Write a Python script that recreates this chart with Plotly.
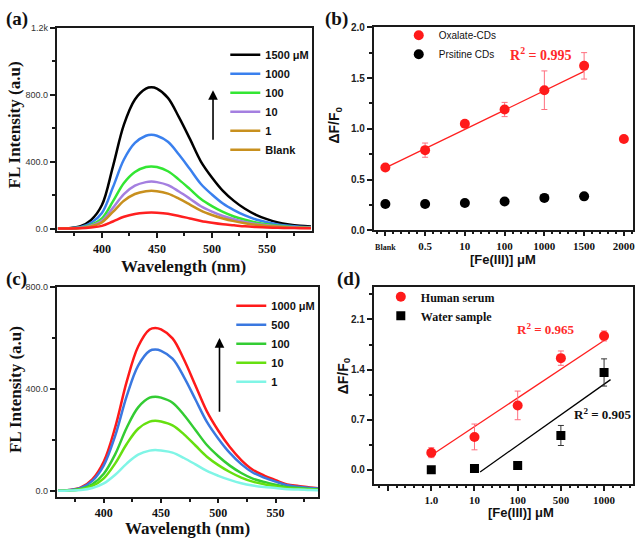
import plotly.graph_objects as go

SANS = "Liberation Sans"
SERIF = "Liberation Serif"

# ---------------- data ----------------
wavelength = [360, 370, 380, 390, 400, 410, 420, 430, 440, 445, 450, 460, 470,
              480, 490, 500, 510, 520, 530, 540, 550, 560, 570, 580, 590]

# panel (a): oxalate-CDs emission spectra
a_1500 = [0, 2, 12, 50, 140, 370, 620, 770, 835, 843, 835, 780, 665, 535, 400, 305, 225, 165, 118, 82, 56, 36, 24, 16, 12]
a_1000 = [0, 1, 8, 33, 93, 246, 412, 511, 554, 560, 554, 518, 442, 355, 266, 203, 149, 110, 78, 54, 37, 24, 16, 11, 8]
a_100 = [0, 1, 5, 22, 61, 162, 272, 338, 367, 370, 367, 342, 292, 235, 176, 134, 99, 72, 52, 36, 25, 16, 11, 7, 5]
a_10 = [0, 1, 4, 17, 46, 123, 206, 256, 277, 280, 277, 259, 221, 178, 133, 101, 75, 55, 39, 27, 19, 12, 8, 5, 4]
a_1 = [0, 1, 3, 13, 37, 99, 166, 206, 223, 225, 223, 208, 178, 143, 107, 81, 60, 44, 32, 22, 15, 10, 6, 4, 3]
a_blank = [0, 0, 1, 6, 16, 42, 70, 87, 94, 95, 94, 88, 75, 60, 45, 34, 25, 19, 13, 9, 6, 4, 3, 2, 1]
a_labels = ["1500 μM", "1000", "100", "10", "1", "Blank"]
a_ticktext_y = ["0.0", "400.0", "800.0", "1.2k"]
a_tickvals_y = [0, 400, 800, 1200]

# panel (c): human serum emission spectra
c_1000 = [0, 3, 13, 45, 115, 250, 429, 567, 634, 640, 634, 599, 516, 414, 312, 236, 172, 121, 83, 60, 42, 25, 19, 13, 9]
c_500 = [0, 3, 11, 39, 100, 217, 372, 492, 550, 555, 550, 519, 447, 359, 271, 205, 149, 105, 72, 52, 36, 22, 16, 11, 8]
c_100 = [0, 2, 7, 26, 67, 144, 248, 328, 366, 370, 366, 346, 298, 239, 180, 136, 99, 70, 48, 35, 24, 14, 11, 7, 5]
c_10 = [0, 1, 6, 19, 49, 108, 184, 244, 272, 275, 272, 257, 222, 178, 134, 101, 74, 52, 36, 26, 18, 11, 8, 6, 4]
c_1 = [0, 1, 3, 11, 29, 63, 107, 142, 158, 160, 158, 150, 129, 104, 78, 59, 43, 30, 21, 15, 11, 6, 5, 3, 2]
c_labels = ["1000 μM", "500", "100", "10", "1"]
c_ticktext_y = ["0.0", "400.0", "800.0"]
c_tickvals_y = [0, 400, 800]

# panel (b)
b_categories = ["<span style='font-size:8px'>Blank</span>", "0.5", "10", "100", "1000", "1500", "2000"]
b_oxalate = [0.62, 0.79, 1.05, 1.19, 1.38, 1.62, 0.90]
b_oxalate_err = [0.02, 0.07, 0.02, 0.07, 0.19, 0.13, 0.0]
b_pristine = [0.26, 0.26, 0.27, 0.285, 0.32, 0.335]
b_fit = [0.19, 0.615]          # slope, intercept
b_fit_span = [0, 5]

# panel (d)
d_categories = ["", "1.0", "10", "100", "500", "1000"]
d_serum = [0.24, 0.46, 0.90, 1.56, 1.87]
d_serum_err = [0.07, 0.18, 0.20, 0.10, 0.07]
d_water = [0.0, 0.02, 0.06, 0.48, 1.36]
d_water_err = [0.01, 0.01, 0.05, 0.14, 0.19]
d_serum_fit = [0.401, 0.202]
d_serum_fit_span = [0.09, 4.0]
d_water_fit = [0.427, -0.512]
d_water_fit_span = [1.13, 4.15]

# ---------------- figure ----------------
fig = go.Figure()

a_series = [a_1500, a_1000, a_100, a_10, a_1]
a_colors = ["#000000", "#3a80ee", "#33e633", "#a47fe0", "#c8901e"]
for ys, col, lab in zip(a_series, a_colors, a_labels[:5]):
    fig.add_trace(go.Scatter(x=wavelength, y=ys, mode="lines", name=lab,
                             line=dict(color=col, width=2.5, shape="spline"),
                             xaxis="x", yaxis="y", legend="legend"))
fig.add_trace(go.Scatter(x=wavelength, y=a_blank, mode="lines", showlegend=False,
                         line=dict(color="#ff2020", width=2.5, shape="spline"),
                         xaxis="x", yaxis="y"))
fig.add_trace(go.Scatter(x=[None], y=[None], mode="lines", name=a_labels[5],
                         line=dict(color="#c8901e", width=2.5),
                         xaxis="x", yaxis="y", legend="legend"))

c_series = [c_1000, c_500, c_100, c_10, c_1]
c_colors = ["#ff1a1a", "#3a78e0", "#33cc33", "#66e010", "#80f5e6"]
for ys, col, lab in zip(c_series, c_colors, c_labels):
    fig.add_trace(go.Scatter(x=wavelength, y=ys, mode="lines", name=lab,
                             line=dict(color=col, width=2.5, shape="spline"),
                             xaxis="x3", yaxis="y3", legend="legend3"))

# panel (b)
b_x = list(range(len(b_categories)))
fig.add_trace(go.Scatter(x=[b_fit_span[0], b_fit_span[1]],
                         y=[b_fit[0] * b_fit_span[0] + b_fit[1], b_fit[0] * b_fit_span[1] + b_fit[1]],
                         mode="lines", line=dict(color="#ff2020", width=1.3), showlegend=False,
                         xaxis="x2", yaxis="y2"))
fig.add_trace(go.Scatter(x=b_x, y=b_oxalate, mode="markers", name="Oxalate-CDs",
                         marker=dict(color="#ff1a1a", size=10),
                         error_y=dict(type="data", array=b_oxalate_err, color="#ff6f7f", thickness=1, width=3),
                         xaxis="x2", yaxis="y2", legend="legend2"))
fig.add_trace(go.Scatter(x=b_x[:len(b_pristine)], y=b_pristine, mode="markers", name="Prsitine CDs",
                         marker=dict(color="#000000", size=10),
                         xaxis="x2", yaxis="y2", legend="legend2"))

# panel (d)
d_x = list(range(len(d_serum)))
for fit, span, col in [(d_serum_fit, d_serum_fit_span, "#ff2020"), (d_water_fit, d_water_fit_span, "#000000")]:
    fig.add_trace(go.Scatter(x=span, y=[fit[0] * s + fit[1] for s in span], mode="lines",
                             line=dict(color=col, width=1.3), showlegend=False,
                             xaxis="x4", yaxis="y4"))
fig.add_trace(go.Scatter(x=d_x, y=d_serum, mode="markers", name="Human serum",
                         marker=dict(color="#ff1a1a", size=10),
                         error_y=dict(type="data", array=d_serum_err, color="#ff6f7f", thickness=1, width=3),
                         xaxis="x4", yaxis="y4", legend="legend4"))
fig.add_trace(go.Scatter(x=d_x, y=d_water, mode="markers", name="Water sample",
                         marker=dict(color="#000000", size=9, symbol="square"),
                         error_y=dict(type="data", array=d_water_err, color="#333333", thickness=1, width=3),
                         xaxis="x4", yaxis="y4", legend="legend4"))

W, H = 640, 548


def px_x(p):
    return p / W


def px_y(p):
    return 1 - p / H


def axis_common(**kw):
    d = dict(showline=True, linecolor="#1a1a1a", linewidth=2, mirror=True,
             ticks="outside", ticklen=5, tickwidth=1.5, tickcolor="#1a1a1a",
             showgrid=False, zeroline=False)
    d.update(kw)
    return d


serif_tick = dict(family=SERIF, size=12, color="#111111", weight="bold")
sans_tick = dict(family=SANS, size=9, color="#333333")
sans_tick_b = dict(family=SANS, size=10, color="#222222", weight="bold")

fig.update_layout(
    width=W, height=H, margin=dict(l=0, r=0, t=0, b=0),
    paper_bgcolor="white", plot_bgcolor="white",
    xaxis=axis_common(domain=[px_x(57), px_x(313)], anchor="y", range=[359, 591],
                      tickvals=[400, 450, 500, 550], tickfont=serif_tick,
                      minor=dict(ticks="outside", ticklen=3, dtick=25, tick0=0)),
    yaxis=axis_common(domain=[px_y(231), px_y(23)], anchor="x", range=[-17, 1200],
                      tickvals=a_tickvals_y, ticktext=a_ticktext_y, tickfont=sans_tick,
                      minor=dict(ticks="outside", ticklen=3, dtick=200, tick0=0)),
    xaxis3=axis_common(domain=[px_x(57), px_x(319)], anchor="y3", range=[359, 587], ticklen=4,
                       tickvals=[400, 450, 500, 550], tickfont=serif_tick,
                       minor=dict(ticks="outside", ticklen=3, dtick=25, tick0=0)),
    yaxis3=axis_common(domain=[px_y(502), px_y(288)], anchor="x3", range=[-24, 800],
                       tickvals=c_tickvals_y, ticktext=c_ticktext_y, tickfont=sans_tick,
                       minor=dict(ticks="outside", ticklen=3, dtick=200, tick0=0)),
    xaxis2=axis_common(domain=[px_x(375), px_x(635)], anchor="y2", range=[-0.29, 6.23], ticklen=4,
                       tickvals=b_x, ticktext=b_categories,
                       tickfont=dict(family=SERIF, size=11, color="#111111", weight="bold"),
                       minor=dict(ticks="outside", ticklen=2, dtick=0.2, tick0=0)),
    yaxis2=axis_common(domain=[px_y(230), px_y(22.7)], anchor="x2", range=[0, 2],
                       tickvals=[0, 0.5, 1.0, 1.5, 2.0], tickformat=".1f", tickfont=sans_tick_b,
                       minor=dict(ticks="outside", ticklen=3, dtick=0.25, tick0=0)),
    xaxis4=axis_common(domain=[px_x(375), px_x(635)], anchor="y4", range=[-1.33, 4.67],
                       tickvals=list(range(-1, len(d_serum))), ticktext=d_categories,
                       tickfont=dict(family=SERIF, size=11, color="#111111", weight="bold"),
                       minor=dict(ticks="outside", ticklen=2, dtick=0.2, tick0=0)),
    yaxis4=axis_common(domain=[px_y(489), px_y(287.3)], anchor="x4", range=[-0.2, 2.56],
                       tickvals=[0, 0.7, 1.4, 2.1], tickformat=".1f", tickfont=sans_tick_b,
                       minor=dict(ticks="outside", ticklen=3, dtick=0.35, tick0=0)),
    legend=dict(x=px_x(226), y=px_y(36), xanchor="left", yanchor="top",
                bgcolor="rgba(0,0,0,0)", tracegroupgap=0,
                font=dict(family=SANS, size=11, color="#111111", weight="bold")),
    legend3=dict(x=px_x(232), y=px_y(292), xanchor="left", yanchor="top",
                 bgcolor="rgba(0,0,0,0)", tracegroupgap=0,
                 font=dict(family=SANS, size=11, color="#111111", weight="bold")),
    legend2=dict(x=px_x(400), y=px_y(16), xanchor="left", yanchor="top",
                 bgcolor="rgba(0,0,0,0)", tracegroupgap=0,
                 font=dict(family=SANS, size=10, color="#111111")),
    legend4=dict(x=px_x(382), y=px_y(283), xanchor="left", yanchor="top",
                 bgcolor="rgba(0,0,0,0)", tracegroupgap=0,
                 font=dict(family=SERIF, size=12, color="#111111", weight="bold")),
)

title_serif = dict(family=SERIF, size=17, color="#111111", weight="bold")
title_sans = dict(family=SANS, size=13, color="#111111", weight="bold")
label_font = dict(family=SERIF, size=19, color="#111111", weight="bold")
delta_font = dict(family=SANS, size=14, color="#111111", weight="bold")

annotations = [
    # panel labels
    dict(text="(a)", x=px_x(4), y=px_y(14), xanchor="left", font=label_font),
    dict(text="(b)", x=px_x(324), y=px_y(14), xanchor="left", font=label_font),
    dict(text="(c)", x=px_x(4), y=px_y(280), xanchor="left", font=label_font),
    dict(text="(d)", x=px_x(336), y=px_y(280), xanchor="left", font=label_font),
    # axis titles
    dict(text="FL Intensity (a.u)", x=px_x(15), y=px_y(122), textangle=-90, font=title_serif),
    dict(text="Wavelength (nm)", x=px_x(184), y=px_y(267), font=title_serif),
    dict(text="FL Intensity (a.u)", x=px_x(15), y=px_y(392), textangle=-90, font=title_serif),
    dict(text="Wavelength (nm)", x=px_x(188), y=px_y(534), font=title_serif),
    dict(text="ΔF/F<sub>0</sub>", x=px_x(336), y=px_y(122), textangle=-90, font=delta_font),
    dict(text="[Fe(III)] μM", x=px_x(505), y=px_y(260), font=title_sans),
    dict(text="ΔF/F<sub>0</sub>", x=px_x(345), y=px_y(378), textangle=-90, font=delta_font),
    dict(text="[Fe(III)] μM", x=px_x(523), y=px_y(518), font=title_sans),
    # R^2 labels
    dict(text="R<sup>2</sup> = 0.995", x=px_x(543), y=px_y(50), font=dict(family=SERIF, size=14, color="#ff2a2a", weight="bold")),
    dict(text="R<sup>2</sup> = 0.965", x=px_x(548), y=px_y(331), font=dict(family=SERIF, size=13, color="#ff2a2a", weight="bold")),
    dict(text="R<sup>2</sup> = 0.905", x=px_x(605), y=px_y(417), font=dict(family=SERIF, size=13, color="#111111", weight="bold")),
]
for ann in annotations:
    ann.setdefault("xanchor", "center")
    ann.update(xref="paper", yref="paper", showarrow=False, yanchor="middle")

# arrows (in data coordinates)
arrow_a = dict(x=501, y=826, ax=501, ay=521, xref="x", yref="y", axref="x", ayref="y")
arrow_c = dict(x=501, y=600, ax=501, ay=305, xref="x3", yref="y3", axref="x3", ayref="y3")
for arr in (arrow_a, arrow_c):
    arr.update(text="", showarrow=True, arrowhead=2, arrowsize=1.2, arrowwidth=1.6, arrowcolor="#000000")
    annotations.append(arr)

fig.update_layout(annotations=annotations)
fig.write_html("out.html")
